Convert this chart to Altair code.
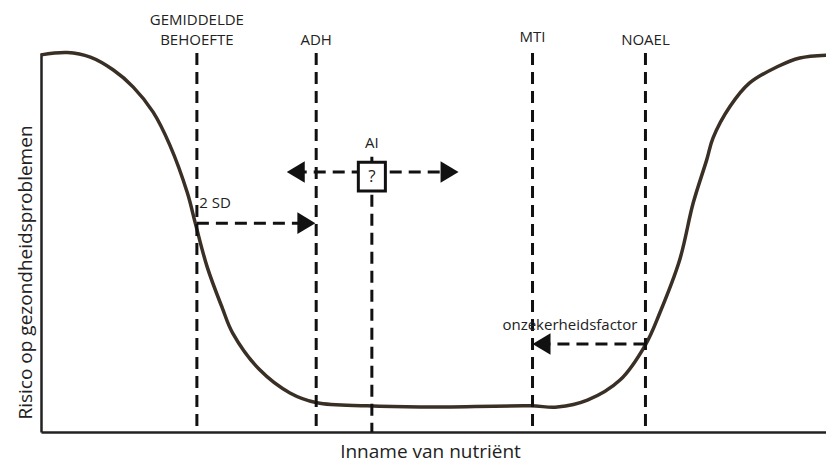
import altair as alt
import pandas as pd

# ---- data (x: intake 0-100, y: risk 0-100) ----
curve_x = [0.0, 3.3, 6.2, 9.1, 11.6, 14.1, 16.2, 18.4, 19.4, 20.9, 22.8, 24.1, 27.5,
           31.3, 34.7, 41.0, 47.7, 61.5, 64.9, 68.7, 72.8, 76.0, 77.8, 80.3, 82.0, 83.7,
           84.5, 86.6, 89.1, 92.5, 95.4, 99.6]
curve_y = [99.5, 100.1, 98.9, 95.5, 91.0, 84.4, 75.7, 63.1, 55.1, 43.5, 32.7, 26.1, 16.4,
           10.3, 7.7, 6.9, 6.6, 6.9, 6.6, 8.4, 13.7, 23.0, 31.4, 45.4, 60.4, 71.8,
           77.6, 85.8, 92.1, 96.3, 98.7, 99.5]

guide_x = [19.6, 34.6, 61.8, 76.0]
guide_top = [100, 100, 100, 100]
ai_x = [41.6]
ai_top = [72.6]

label_text = ["GEMIDDELDE", "BEHOEFTE", "ADH", "MTI", "NOAEL", "AI", "onzekerheidsfactor"]
label_x = [19.6, 19.6, 34.6, 61.8, 76.0, 41.6, 66.5]
label_y = [108.7, 103.4, 103.4, 104.2, 103.4, 76.3, 28.2]

sd_text = ["2 SD"]
sd_x = [19.9]
sd_y = [60.4]

q_text = ["?"]
q_x = [41.6]
q_y = [67.2]

box_x1, box_x2, box_y1, box_y2 = [39.9], [43.3], [63.6], [71.2]

# dashed arrow shafts
shaft_x1 = [19.6, 76.0, 31.9]
shaft_x2 = [33.5, 62.8, 51.5]
shaft_y = [55.1, 23.2, 68.6]

# arrow heads (tip positions)
head_x = [34.5, 61.8, 30.9, 52.5]
head_y = [55.1, 23.2, 68.6, 68.6]
head_dir = ["right", "left", "left", "right"]

FONT = "Open Sans"
INK = "#111111"
TXT = "#222222"

xs = alt.Scale(domain=[0, 98.7], nice=False, zero=False)
ys = alt.Scale(domain=[0, 100], nice=False, zero=False)

curve_df = pd.DataFrame({"x": curve_x, "y": curve_y})
guides_df = pd.DataFrame({"x": guide_x, "top": guide_top, "bottom": [0] * len(guide_x)})
ai_df = pd.DataFrame({"x": ai_x, "top": ai_top, "bottom": [0]})
labels_df = pd.DataFrame({"t": label_text, "x": label_x, "y": label_y})
sd_df = pd.DataFrame({"t": sd_text, "x": sd_x, "y": sd_y})
q_df = pd.DataFrame({"t": q_text, "x": q_x, "y": q_y})
box_df = pd.DataFrame({"x": box_x1, "x2": box_x2, "y": box_y1, "y2": box_y2})
shaft_df = pd.DataFrame({"x": shaft_x1, "x2": shaft_x2, "y": shaft_y})
heads_df = pd.DataFrame({"x": head_x, "y": head_y, "d": head_dir})

dash = [12, 7]

base_x = alt.X("x:Q", scale=xs, axis=alt.Axis(
    title="Inname van nutriënt", ticks=False, labels=False, grid=False,
    domainColor="#222222", domainWidth=2.5, titleFont=FONT, titleFontSize=19,
    titleFontWeight="normal", titleColor=TXT, titlePadding=10, titleX=389))
base_y = alt.Y("y:Q", scale=ys, axis=alt.Axis(
    title="Risico op gezondheidsproblemen", ticks=False, labels=False, grid=False,
    domainColor="#222222", domainWidth=2.5, titleFont=FONT, titleFontSize=19,
    titleFontWeight="normal", titleColor=TXT, titlePadding=6, titleY=219))

guides = alt.Chart(guides_df).mark_rule(color=INK, strokeWidth=3, strokeDash=dash).encode(
    x=alt.X("x:Q", scale=xs), y=alt.Y("top:Q", scale=ys), y2="bottom:Q")
ai_line = alt.Chart(ai_df).mark_rule(color=INK, strokeWidth=3, strokeDash=dash).encode(
    x=alt.X("x:Q", scale=xs), y=alt.Y("top:Q", scale=ys), y2="bottom:Q")

shafts = alt.Chart(shaft_df).mark_rule(color=INK, strokeWidth=3, strokeDash=dash).encode(
    x=alt.X("x:Q", scale=xs), x2="x2:Q", y=alt.Y("y:Q", scale=ys))

right_heads = alt.Chart(heads_df).transform_filter(alt.datum.d == "right").mark_point(
    shape="M0,0L-1,-0.6L-1,0.6Z", size=1296, filled=True, color=INK, opacity=1).encode(
    x=alt.X("x:Q", scale=xs), y=alt.Y("y:Q", scale=ys))
left_heads = alt.Chart(heads_df).transform_filter(alt.datum.d == "left").mark_point(
    shape="M0,0L1,-0.6L1,0.6Z", size=1296, filled=True, color=INK, opacity=1).encode(
    x=alt.X("x:Q", scale=xs), y=alt.Y("y:Q", scale=ys))

box = alt.Chart(box_df).mark_rect(fill="white", stroke=INK, strokeWidth=3).encode(
    x=alt.X("x:Q", scale=xs), x2="x2:Q", y=alt.Y("y:Q", scale=ys), y2="y2:Q")

curve = alt.Chart(curve_df).mark_line(color="#3a2f25", strokeWidth=3.5, interpolate="catmull-rom").encode(
    x=base_x, y=base_y)

labels = alt.Chart(labels_df).mark_text(font=FONT, fontSize=15, color=TXT,
                                        align="center", baseline="middle").encode(
    x=alt.X("x:Q", scale=xs), y=alt.Y("y:Q", scale=ys), text="t:N")
sd_label = alt.Chart(sd_df).mark_text(font=FONT, fontSize=15, color=TXT,
                                      align="left", baseline="middle").encode(
    x=alt.X("x:Q", scale=xs), y=alt.Y("y:Q", scale=ys), text="t:N")
q_label = alt.Chart(q_df).mark_text(font=FONT, fontSize=17, color=TXT,
                                    align="center", baseline="middle").encode(
    x=alt.X("x:Q", scale=xs), y=alt.Y("y:Q", scale=ys), text="t:N")

chart = alt.layer(
    curve, guides, ai_line, shafts, box, right_heads, left_heads, labels, sd_label, q_label
).properties(
    width=785, height=379,
    padding={"left": 33, "top": 45, "right": 0, "bottom": 31},
    autosize=alt.AutoSizeParams(type="none"),
    background="white",
).configure_view(stroke=None)

chart.save("out.html", embed_options={"renderer": "svg", "actions": False})
